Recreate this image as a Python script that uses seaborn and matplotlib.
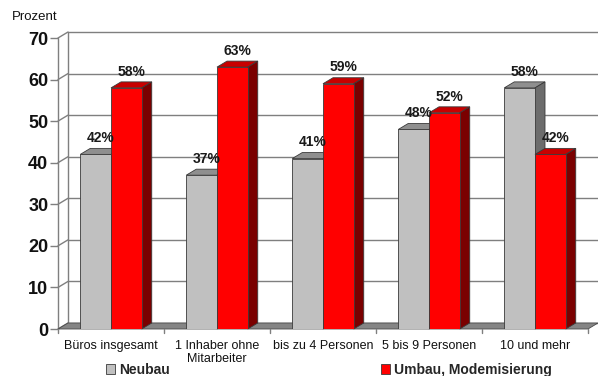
import numpy as np
import pandas as pd
import matplotlib
matplotlib.use("Agg")
import matplotlib.pyplot as plt
from matplotlib.patches import Polygon, Patch
import seaborn as sns

categories = ["Büros insgesamt", "1 Inhaber ohne\nMitarbeiter", "bis zu 4 Personen",
              "5 bis 9 Personen", "10 und mehr"]
neubau = [42, 37, 41, 48, 58]
umbau = [58, 63, 59, 52, 42]
series_names = ["Neubau", "Umbau, Modemisierung"]
yticks = [0, 10, 20, 30, 40, 50, 60, 70]

df = pd.DataFrame({
    "Kategorie": categories * 2,
    "Typ": [series_names[0]] * 5 + [series_names[1]] * 5,
    "Wert": neubau + umbau,
})

sns.set_theme(style="white")
plt.rcParams["font.family"] = ["Liberation Sans", "DejaVu Sans"]

W, H = 598, 376
fig = plt.figure(figsize=(W / 100, H / 100), dpi=100)
left_px, right_px, bot_px, top_px = 58, 588, 329, 38
ax = fig.add_axes([left_px / W, (H - bot_px) / H, (right_px - left_px) / W, (bot_px - top_px) / H])

front = {"Neubau": "#c0c0c0", "Umbau, Modemisierung": "#ff0000"}
topc = {"Neubau": "#8f8f8f", "Umbau, Modemisierung": "#c80000"}
sidec = {"Neubau": "#6c6c6c", "Umbau, Modemisierung": "#7a0000"}

sns.barplot(data=df, x="Kategorie", y="Wert", hue="Typ", palette=front, width=0.58,
            dodge=True, legend=False, ax=ax, edgecolor="#3a3a3a", linewidth=0.6,
            saturation=1, zorder=5)

ax.set_xlim(-0.5, 4.5)
ax.set_ylim(0, 70)
for s in ax.spines.values():
    s.set_visible(False)

ppx = (right_px - left_px) / 5.0
ppy = (bot_px - top_px) / 70.0
dx = 10 / ppx
dy = 6 / ppy

grid_c = "#7f7f7f"
# back wall gridlines + left wall diagonals
for t in yticks:
    ax.plot([-0.5 + dx, 4.5 + dx + 0.05], [t + dy, t + dy], color=grid_c, lw=1.0, zorder=1, clip_on=False)
    ax.plot([-0.5, -0.5 + dx], [t, t + dy], color=grid_c, lw=1.0, zorder=1, clip_on=False)
ax.plot([-0.5 + dx, -0.5 + dx], [dy, 70 + dy], color=grid_c, lw=1.0, zorder=1, clip_on=False)
# front y-axis
ax.plot([-0.5, -0.5], [0, 70], color=grid_c, lw=1.0, zorder=2, clip_on=False)
# floor
floor = Polygon([(-0.5, 0), (4.5, 0), (4.5 + dx, dy), (-0.5 + dx, dy)], closed=True,
                facecolor="#858585", edgecolor="#4a4a4a", lw=0.6, zorder=2, clip_on=False)
ax.add_patch(floor)
for b in np.arange(-0.5, 4.6, 1.0):
    ax.plot([b, b], [0, -1.0], color=grid_c, lw=1.0, zorder=2, clip_on=False)

# 3D tops and sides
for ci, cont in enumerate(ax.containers):
    name = series_names[ci]
    for bar in cont:
        x0 = bar.get_x()
        w = bar.get_width()
        h = bar.get_height()
        z = 5 + ci * 2
        bar.set_zorder(z + 1)
        top = Polygon([(x0, h), (x0 + w, h), (x0 + w + dx, h + dy), (x0 + dx, h + dy)], closed=True,
                      facecolor=topc[name], edgecolor="#3a3a3a", lw=0.6, zorder=z, clip_on=False)
        side = Polygon([(x0 + w, 0), (x0 + w + dx, dy), (x0 + w + dx, h + dy), (x0 + w, h)], closed=True,
                       facecolor=sidec[name], edgecolor="#3a3a3a", lw=0.6, zorder=z, clip_on=False)
        ax.add_patch(top)
        ax.add_patch(side)
        ax.text(x0 + w / 2 + dx / 2, h + dy + 0.8, f"{int(round(h))}%", ha="center", va="bottom",
                fontsize=10, fontweight="bold", color="#1a1a1a", zorder=20, clip_on=False)

ax.set_yticks(yticks)
ax.set_yticklabels([str(t) for t in yticks], fontsize=13, fontweight="bold", color="#111111")
ax.tick_params(axis="y", length=6, width=1.0, color=grid_c, pad=1, left=True)
ax.set_xticks(range(5))
ax.set_xticklabels(categories, fontsize=9, color="#111111", linespacing=1.15)
ax.tick_params(axis="x", length=0, pad=8)
ax.set_xlabel("")
ax.set_ylabel("")

fig.text(12 / W, 1 - 17 / H, "Prozent", fontsize=9.5, va="center", ha="left", color="#111111")

handles = [Patch(facecolor=front[n], edgecolor="#3a3a3a", lw=0.6) for n in series_names]
fig.legend(handles, series_names, loc="center left", bbox_to_anchor=(106 / W, 1 - 370 / H),
           ncol=2, frameon=False, prop={"weight": "bold", "size": 10}, handlelength=0.65,
           handleheight=0.65, handletextpad=0.3, columnspacing=15.2, borderpad=0, borderaxespad=0)

fig.savefig("out.png", dpi=100)
